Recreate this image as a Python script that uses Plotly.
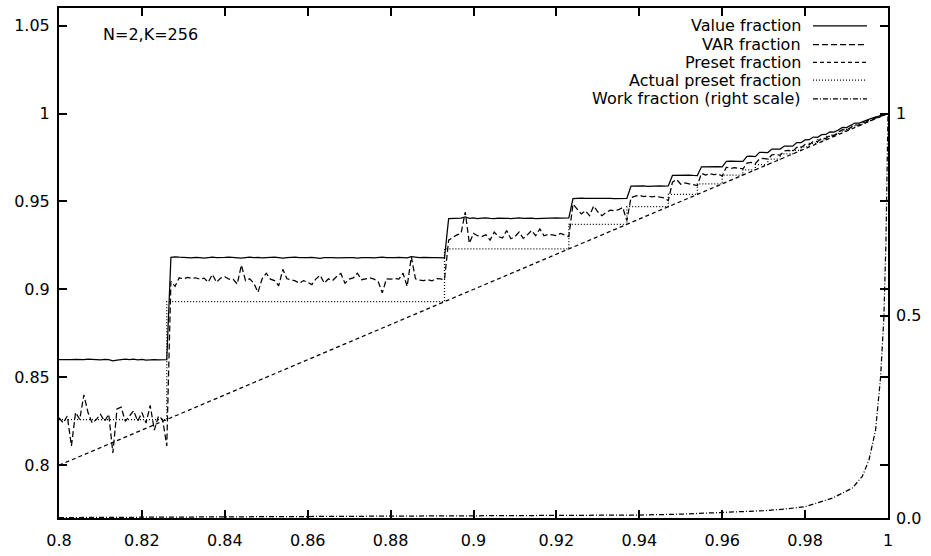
import numpy as np
import plotly.graph_objects as go

# Sample positions: preset fraction from 0.800 to 1.000 in steps of 0.001
x_start = 0.8
x_step = 0.001
n_points = 201
x_grid = np.round(x_start + x_step * np.arange(n_points), 3)

# Value fraction (solid), one value per sample position
value_frac = [
    # 0.800 - 0.826
    0.8600, 0.8599, 0.8601, 0.8600, 0.8602, 0.8600, 0.8601, 0.8603, 0.8600, 0.8601,
    0.8599, 0.8602, 0.8600, 0.8594, 0.8598, 0.8602, 0.8604, 0.8600, 0.8603, 0.8599,
    0.8602, 0.8598, 0.8601, 0.8600, 0.8599, 0.8600, 0.8600,
    # 0.827 - 0.893
    0.9182, 0.9185, 0.9183, 0.9180, 0.9181, 0.9179, 0.9182, 0.9180, 0.9178, 0.9181,
    0.9183, 0.9180, 0.9179, 0.9182, 0.9184, 0.9181, 0.9180, 0.9178, 0.9181, 0.9183,
    0.9180, 0.9182, 0.9179, 0.9181, 0.9180, 0.9183, 0.9181, 0.9178, 0.9180, 0.9182,
    0.9184, 0.9181, 0.9179, 0.9180, 0.9182, 0.9180, 0.9177, 0.9180, 0.9182, 0.9181,
    0.9179, 0.9180, 0.9183, 0.9181, 0.9180, 0.9178, 0.9181, 0.9182, 0.9180, 0.9179,
    0.9181, 0.9183, 0.9180, 0.9178, 0.9180, 0.9182, 0.9181, 0.9179, 0.9186, 0.9181,
    0.9180, 0.9182, 0.9179, 0.9180, 0.9181, 0.9180, 0.9179,
    # 0.894 - 0.923
    0.9402, 0.9404, 0.9406, 0.9405, 0.9412, 0.9404, 0.9406, 0.9403, 0.9405, 0.9407,
    0.9404, 0.9402, 0.9405, 0.9406, 0.9404, 0.9403, 0.9405, 0.9407, 0.9404, 0.9406,
    0.9405, 0.9403, 0.9404, 0.9406, 0.9405, 0.9404, 0.9407, 0.9405, 0.9404, 0.9406,
    # 0.924 - 0.937
    0.9516, 0.9518, 0.9519, 0.9517, 0.9518, 0.9520, 0.9518, 0.9517, 0.9519, 0.9518,
    0.9516, 0.9518, 0.9519, 0.9518,
    # 0.938 - 0.947
    0.9587, 0.9588, 0.9589, 0.9588, 0.9586, 0.9588, 0.9589, 0.9588, 0.9587, 0.9588,
    # 0.948 - 0.954
    0.9648, 0.9649, 0.9647, 0.9648, 0.9650, 0.9648, 0.9647,
    # 0.955 - 1.000
    0.9697, 0.9698, 0.9696, 0.9697, 0.9698, 0.9697,
    0.9728, 0.9729, 0.9727, 0.9728, 0.9728,
    0.9756, 0.9757, 0.9755,
    0.9779, 0.9780, 0.9778,
    0.9798, 0.9799, 0.9798,
    0.9815, 0.9816, 0.9814,
    0.9835, 0.9834,
    0.9850, 0.9851,
    0.9866, 0.9865,
    0.9880, 0.9881,
    0.9895, 0.9894,
    0.9906,
    0.9921, 0.9920,
    0.9933,
    0.9946, 0.9945,
    0.9955, 0.9964, 0.9972, 0.9979, 0.9986, 0.9993, 1.0000,
]

# VAR fraction (dashed), one value per sample position
var_frac = [
    # 0.800 - 0.826
    0.827, 0.824, 0.828, 0.811, 0.830, 0.826, 0.840, 0.830, 0.824, 0.826,
    0.829, 0.825, 0.829, 0.807, 0.832, 0.833, 0.825, 0.828, 0.831, 0.825,
    0.830, 0.824, 0.834, 0.820, 0.828, 0.826, 0.811,
    # 0.827 - 0.893
    0.9045, 0.9017, 0.9066, 0.9060, 0.9068, 0.9062, 0.9066, 0.9058, 0.9064, 0.9040,
    0.9085, 0.9040, 0.9065, 0.9072, 0.9058, 0.9058, 0.9030, 0.9138, 0.9050, 0.9060,
    0.9035, 0.8983, 0.9060, 0.9092, 0.9058, 0.9050, 0.9020, 0.9114, 0.9060, 0.9055,
    0.9048, 0.9035, 0.9050, 0.9040, 0.9027, 0.9060, 0.9080, 0.9035, 0.9060, 0.9050,
    0.9073, 0.9090, 0.9035, 0.9058, 0.9065, 0.9092, 0.9055, 0.9060, 0.9065, 0.9058,
    0.9045, 0.8980, 0.9060, 0.9058, 0.9062, 0.9058, 0.9092, 0.9017, 0.9185, 0.9060,
    0.9052, 0.9050, 0.9055, 0.9048, 0.9062, 0.9060, 0.9055,
    # 0.894 - 0.923
    0.9280, 0.9295, 0.9310, 0.9318, 0.9440, 0.9262, 0.9318, 0.9305, 0.9300, 0.9310,
    0.9280, 0.9326, 0.9300, 0.9292, 0.9335, 0.9288, 0.9300, 0.9326, 0.9290, 0.9310,
    0.9335, 0.9305, 0.9344, 0.9305, 0.9312, 0.9310, 0.9305, 0.9318, 0.9310, 0.9300,
    # 0.924 - 0.937
    0.9485, 0.9457, 0.9429, 0.9447, 0.9419, 0.9475, 0.9440, 0.9419, 0.9438, 0.9450,
    0.9447, 0.9453, 0.9466, 0.9391,
    # 0.938 - 0.947
    0.9522, 0.9530, 0.9535, 0.9528, 0.9532, 0.9526, 0.9530, 0.9524, 0.9520, 0.9505,
    # 0.948 - 0.954
    0.9610, 0.9625, 0.9598, 0.9605, 0.9600, 0.9596, 0.9590,
    # 0.955 - 1.000
    0.9660, 0.9650, 0.9658, 0.9652, 0.9656, 0.9645,
    0.9695, 0.9688, 0.9692, 0.9690, 0.9685,
    0.9718, 0.9722, 0.9715,
    0.9742, 0.9745, 0.9740,
    0.9765, 0.9768, 0.9762,
    0.9788, 0.9790, 0.9785,
    0.9808, 0.9805,
    0.9825, 0.9822,
    0.9843, 0.9840,
    0.9860, 0.9858,
    0.9878, 0.9876,
    0.9892,
    0.9908, 0.9906,
    0.9920,
    0.9935, 0.9934,
    0.9946, 0.9956, 0.9965, 0.9974, 0.9983, 0.9991, 1.0000,
]

# Preset fraction (diagonal reference)
preset_x = [0.8, 1.0]
preset_y = [0.8, 1.0]

# Actual preset fraction: staircase, each level held until the next break
actual_x = [0.800, 0.826, 0.893, 0.923, 0.937, 0.947, 0.954, 0.960, 0.965, 0.968,
            0.971, 0.974, 0.977, 0.979, 0.981, 0.983, 0.985, 0.987, 0.988, 0.990,
            0.991, 0.993, 0.994, 0.995, 0.996, 0.997, 0.998, 0.999, 1.000]
actual_y = [0.826, 0.893, 0.923, 0.937, 0.947, 0.954, 0.960, 0.965, 0.968, 0.971,
            0.974, 0.977, 0.979, 0.981, 0.983, 0.985, 0.987, 0.988, 0.990, 0.991,
            0.993, 0.994, 0.995, 0.996, 0.997, 0.998, 0.999, 1.000, 1.000]

# Work fraction (right scale)
work_x = [0.800, 0.820, 0.840, 0.860, 0.880, 0.900, 0.920, 0.940, 0.950, 0.960,
          0.970, 0.975, 0.980, 0.9866, 0.9914, 0.9938, 0.9954, 0.9970, 0.9982,
          0.9990, 0.9995, 1.000]
work_y = [0.001, 0.0018, 0.0025, 0.003, 0.0037, 0.0045, 0.0055, 0.0073, 0.0095, 0.013,
          0.018, 0.022, 0.028, 0.049, 0.074, 0.103, 0.143, 0.217, 0.347,
          0.494, 0.68, 1.0]

# Axis ticks
x_ticks = [0.8, 0.82, 0.84, 0.86, 0.88, 0.9, 0.92, 0.94, 0.96, 0.98, 1.0]
x_tick_text = ["0.8", "0.82", "0.84", "0.86", "0.88", "0.9", "0.92", "0.94", "0.96", "0.98", "1"]
y_ticks = [0.8, 0.85, 0.9, 0.95, 1.0, 1.05]
y_tick_text = ["0.8", "0.85", "0.9", "0.95", "1", "1.05"]
y2_ticks = [0.0, 0.5, 1.0]
y2_tick_text = ["0.0", "0.5", "1"]

series_names = ["Value fraction", "VAR fraction", "Preset fraction",
                "Actual preset fraction", "Work fraction (right scale)"]
series_dash = ["solid", "6px,3px", "4px,3px", "1px,2px", "5px,2px,1px,2px"]

FONT = "DejaVu Sans"
INK = "black"
LW = 1.25

fig = go.Figure()
fig.add_trace(go.Scatter(x=x_grid, y=value_frac, mode="lines", name=series_names[0],
                         line=dict(color=INK, width=LW, dash=series_dash[0])))
fig.add_trace(go.Scatter(x=x_grid, y=var_frac, mode="lines", name=series_names[1],
                         line=dict(color=INK, width=LW, dash=series_dash[1])))
fig.add_trace(go.Scatter(x=preset_x, y=preset_y, mode="lines", name=series_names[2],
                         line=dict(color=INK, width=LW, dash=series_dash[2])))
fig.add_trace(go.Scatter(x=actual_x, y=actual_y, mode="lines", name=series_names[3],
                         line=dict(color=INK, width=LW, dash=series_dash[3], shape="hv")))
fig.add_trace(go.Scatter(x=work_x, y=work_y, mode="lines", name=series_names[4], yaxis="y2",
                         line=dict(color=INK, width=LW, dash=series_dash[4])))

y_range = [0.77, 1.06]
# right scale chosen so that 1 sits level with 1 on the left scale
y2_top = (y_range[1] - y_range[0]) / (1.0 - y_range[0])

axis_common = dict(ticks="inside", ticklen=8, tickwidth=1.5, tickcolor=INK,
                   showgrid=False, zeroline=False,
                   tickfont=dict(family=FONT, size=16, color=INK))

fig.update_layout(
    width=931, height=556,
    margin=dict(l=59, r=43, t=6, b=34),
    plot_bgcolor="white", paper_bgcolor="white",
    showlegend=False,
    font=dict(family=FONT, size=16, color=INK),
    xaxis=dict(range=[0.8, 1.0], tickvals=x_ticks, ticktext=x_tick_text,
               showline=True, linewidth=2, linecolor=INK, mirror="ticks",
               ticklabelstandoff=7, **axis_common),
    yaxis=dict(range=y_range, tickvals=y_ticks, ticktext=y_tick_text,
               showline=True, linewidth=2, linecolor=INK, mirror="ticks",
               ticklabelstandoff=4, **axis_common),
    yaxis2=dict(range=[0, y2_top], overlaying="y", side="right",
                tickvals=y2_ticks, ticktext=y2_tick_text, showline=False,
                ticklabelstandoff=7, **axis_common),
)

# Key in the upper right: label right-aligned, line sample after it
key_text_x = 0.8975
key_line_x0, key_line_x1 = 0.9095, 0.9747
key_rows_y = [0.9651, 0.9283, 0.8934, 0.8585, 0.8217]
for name, dash, ky in zip(series_names, series_dash, key_rows_y):
    fig.add_annotation(xref="paper", yref="paper", x=key_text_x, y=ky, text=name,
                       showarrow=False, xanchor="right", yanchor="middle",
                       font=dict(family=FONT, size=16, color=INK))
    fig.add_shape(type="line", xref="paper", yref="paper",
                  x0=key_line_x0, x1=key_line_x1, y0=ky, y1=ky,
                  line=dict(color=INK, width=LW, dash=dash))

fig.add_annotation(xref="paper", yref="paper", x=0.0507, y=0.9477, text="N=2,K=256",
                   showarrow=False, xanchor="left", yanchor="middle",
                   font=dict(family=FONT, size=16, color=INK))

fig.write_html("out.html")
